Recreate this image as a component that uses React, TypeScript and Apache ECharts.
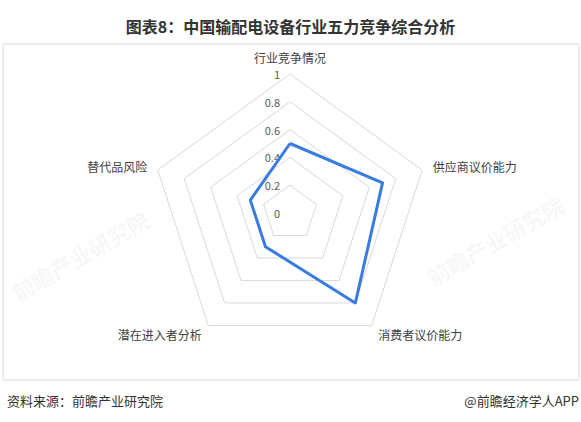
import { useEffect, useRef } from 'react'
import * as echarts from 'echarts'

// 雷达图按逆时针排列，故顺序为：上、左上、左下、右下、右上
const indicators = ['行业竞争情况', '替代品风险', '潜在进入者分析', '消费者议价能力', '供应商议价能力']
const values = [0.5, 0.3, 0.3, 0.8, 0.7]
const title = '图表8：中国输配电设备行业五力竞争综合分析'
const source = '资料来源：前瞻产业研究院'
const credit = '@前瞻经济学人APP'
const watermark = '前瞻产业研究院'

const FONT = '"Noto Sans CJK SC", "Noto Sans", sans-serif'

export default function App() {
  const chartRef = useRef<HTMLDivElement>(null)

  useEffect(() => {
    document.body.style.margin = '0'
    if (!chartRef.current) return
    const chart = echarts.init(chartRef.current, undefined, { renderer: 'svg' })

    // 水印
    const marks = [
      [80, 255],
      [495, 240],
    ].map(([x, y]) => ({
      type: 'text' as const,
      x,
      y,
      rotation: Math.PI / 6,
      silent: true,
      z: -1,
      style: {
        text: watermark,
        fill: 'rgba(0,0,0,0.05)',
        font: `bold 22px ${FONT}`,
        align: 'center' as const,
        verticalAlign: 'middle' as const,
      },
    }))

    chart.setOption({
      animation: false,
      textStyle: { fontFamily: FONT },
      title: {
        text: title,
        left: 'center',
        top: 13,
        textStyle: { fontSize: 16, fontWeight: 'bold', color: '#333' },
      },
      graphic: [
        ...marks,
        {
          type: 'rect',
          shape: { x: 3, y: 44, width: 576, height: 336 },
          style: { fill: 'none', stroke: '#d9d9d9', lineWidth: 1 },
          silent: true,
        },
        {
          type: 'text',
          left: 7,
          top: 394,
          style: { text: source, fill: '#333', font: `13px ${FONT}` },
        },
        {
          type: 'text',
          right: 2,
          top: 394,
          style: { text: credit, fill: '#333', font: `13px ${FONT}` },
        },
      ],
      radar: {
        center: [290, 213],
        radius: 139,
        shape: 'polygon',
        splitNumber: 5,
        startAngle: 90,
        nameGap: 11,
        axisName: { color: '#404040', fontSize: 12, fontFamily: FONT },
        indicator: indicators.map((name, i) => ({
          name,
          min: 0,
          max: 1,
          ...(i === 0
            ? { axisLabel: { show: true, color: '#595959', fontSize: 11, margin: 10 } }
            : {}),
        })),
        axisLine: { show: false },
        axisTick: { show: false },
        axisLabel: { show: false },
        splitLine: { lineStyle: { color: '#d9d9d9', width: 1 } },
        splitArea: { show: false },
      },
      series: [
        {
          type: 'radar',
          symbol: 'none',
          data: [{ value: values, name: '五力竞争' }],
          lineStyle: { color: '#3a7be0', width: 3 },
          itemStyle: { color: '#3a7be0' },
        },
      ],
    })

    return () => {
      chart.dispose()
    }
  }, [])

  return <div ref={chartRef} style={{ width: 581, height: 422 }} />
}
